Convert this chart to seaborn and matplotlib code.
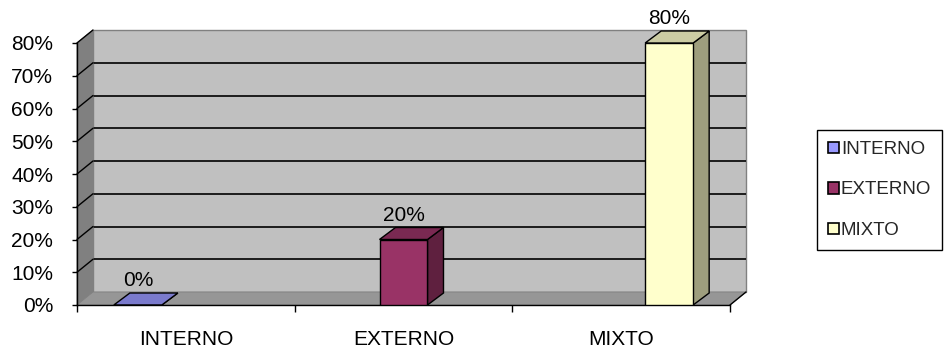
import matplotlib
matplotlib.use("Agg")
import matplotlib.pyplot as plt
from matplotlib.patches import Polygon, Patch
from matplotlib.colors import to_rgb
import seaborn as sns
import pandas as pd

# Chart data
categories = ["INTERNO", "EXTERNO", "MIXTO"]
series = ["INTERNO", "EXTERNO", "MIXTO"]
values = [0.0, 0.20, 0.80]
colors = ["#9999ff", "#993366", "#ffffcc"]
y_ticks = [0.0, 0.1, 0.2, 0.3, 0.4, 0.5, 0.6, 0.7, 0.8]
y_tick_labels = ["0%", "10%", "20%", "30%", "40%", "50%", "60%", "70%", "80%"]

sns.set_theme(style="white")
plt.rcParams["font.family"] = ["Liberation Sans", "DejaVu Sans"]

W, H = 944, 350
fig = plt.figure(figsize=(W / 100, H / 100), dpi=100)
# front plane of the 3-D box
ax_l, ax_b, ax_w, ax_h = 77, 45, 653, 262
ax = fig.add_axes([ax_l / W, ax_b / H, ax_w / W, ax_h / H])

df = pd.DataFrame({"categoria": categories, "serie": series, "valor": values})
sns.barplot(
    data=df, x="categoria", y="valor", hue="serie",
    order=categories, hue_order=series,
    palette=dict(zip(series, colors)), saturation=1, dodge=True, width=0.6615,
    edgecolor="black", linewidth=1, errorbar=None, legend=False,
    ax=ax, zorder=5,
)
bars = list(ax.patches)

XMIN, XMAX = -0.5, len(categories) - 0.5
YMIN, YMAX = 0.0, 0.8
ax.set_xlim(XMIN, XMAX)
ax.set_ylim(YMIN, YMAX)
px_x = ax_w / (XMAX - XMIN)
px_y = ax_h / (YMAX - YMIN)

# depth of the walls and of the columns, in data units
DX, DY = 16 / px_x, 13 / px_y
BDX, BDY = 16 / px_x, 12 / px_y

def poly(pts, fc, ec="none", lw=0.0, z=1.0):
    ax.add_patch(Polygon(pts, closed=True, facecolor=fc, edgecolor=ec,
                         linewidth=lw, zorder=z, clip_on=False))

# back wall
poly([(XMIN + DX, YMIN + DY), (XMAX + DX, YMIN + DY),
      (XMAX + DX, YMAX + DY), (XMIN + DX, YMAX + DY)],
     "#c0c0c0", "#808080", 1.0, 0.2)
# side wall
poly([(XMIN, YMIN), (XMIN + DX, YMIN + DY),
      (XMIN + DX, YMAX + DY), (XMIN, YMAX)],
     "#808080", "#808080", 0.8, 0.3)
# gridlines on both walls
for v in y_ticks[1:]:
    if v < YMAX:
        ax.plot([XMIN + DX, XMAX + DX], [v + DY, v + DY], color="black",
                lw=1.2, zorder=0.25, clip_on=False, solid_capstyle="butt")
    ax.plot([XMIN, XMIN + DX], [v, v + DY], color="black", lw=1.0,
            zorder=0.35, clip_on=False)
# floor
poly([(XMIN, YMIN), (XMAX, YMIN), (XMAX + DX, YMIN + DY), (XMIN + DX, YMIN + DY)],
     "#969696", "#808080", 0.6, 0.4)
ax.plot([XMAX, XMAX + DX], [YMIN, YMIN + DY], color="black", lw=1.0,
        zorder=0.45, clip_on=False)

# shaded top and side faces of each column, plus value labels
for p in bars:
    x0, w, h = p.get_x(), p.get_width(), p.get_height()
    r, g, b = to_rgb(p.get_facecolor())
    top = (r * 0.8, g * 0.8, b * 0.8)
    side = (r * 0.62, g * 0.62, b * 0.62)
    poly([(x0 + w, 0), (x0 + w + BDX, BDY), (x0 + w + BDX, h + BDY), (x0 + w, h)],
         side, "black", 1.0, 4.5)
    poly([(x0, h), (x0 + w, h), (x0 + w + BDX, h + BDY), (x0 + BDX, h + BDY)],
         top, "black", 1.0, 4.6)
    ax.annotate(f"{h:.0%}", (x0 + w / 2, h + BDY), xytext=(0, 2),
                textcoords="offset points", ha="center", va="bottom",
                fontsize=15, color="black", zorder=6, annotation_clip=False)

ax.patch.set_visible(False)
for s in ("top", "right"):
    ax.spines[s].set_visible(False)
for s in ("left", "bottom"):
    ax.spines[s].set_color("black")
    ax.spines[s].set_linewidth(1.0)
    ax.spines[s].set_zorder(4)

ax.set_yticks(y_ticks, y_tick_labels)
ax.tick_params(axis="y", left=True, length=3.6, width=1, color="black",
               pad=13.5, labelsize=15, labelcolor="black")
ax.set_xticks(range(len(categories)), categories)
ax.set_xticks([XMIN + i for i in range(len(categories) + 1)], minor=True)
ax.tick_params(axis="x", which="major", bottom=False, length=0, pad=18,
               labelsize=15, labelcolor="black")
ax.tick_params(axis="x", which="minor", bottom=True, length=5, width=1,
               color="black")
ax.set_xlabel("")
ax.set_ylabel("")

handles = [Patch(facecolor=c, edgecolor="black", linewidth=1.2) for c in colors]
fig.legend(handles, series, loc="center left",
           bbox_to_anchor=(817 / W, 1 - 190 / H), borderaxespad=0,
           fontsize=13.5, frameon=True, fancybox=False, shadow=False,
           framealpha=1, edgecolor="black", handlelength=0.55,
           handleheight=0.55, handletextpad=0.12, labelspacing=1.25,
           borderpad=0.6)
fig.legends[0].get_frame().set_linewidth(1.0)

fig.savefig("out.png", dpi=100, facecolor="white")
